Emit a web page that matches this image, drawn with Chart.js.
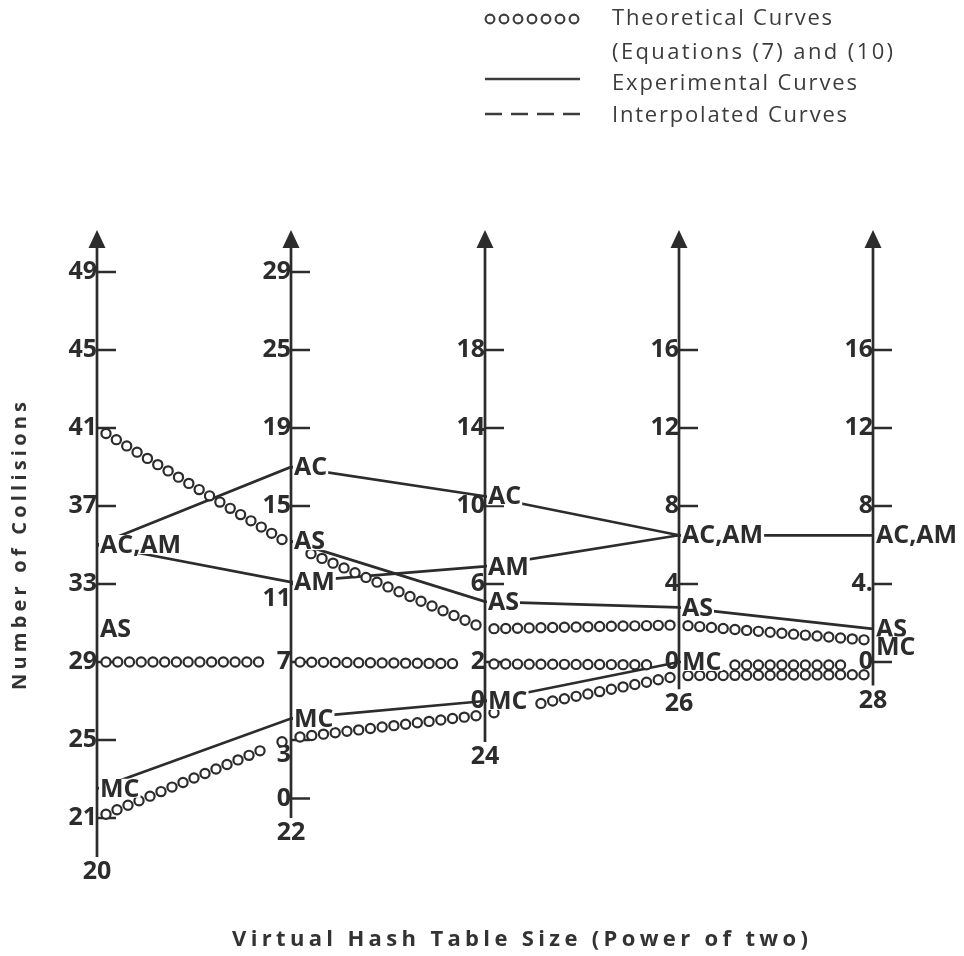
<!DOCTYPE html>
<html>
<head>
<meta charset="utf-8">
<script src="https://cdn.jsdelivr.net/npm/chart.js@4.4.1/dist/chart.umd.min.js"></script>
<style>
  html, body { margin: 0; padding: 0; background: #ffffff; }
  #wrap { width: 964px; height: 956px; position: relative; }
</style>
</head>
<body>
<div id="wrap"><canvas id="chart" width="964" height="956"></canvas></div>
<script>
// Virtual hash table sizes (power of two); each one gets its own vertical axis
const tableSizes = [20, 22, 24, 26, 28];

// Tick values and the labels printed beside them, per axis
const ticks20 = [49, 45, 41, 37, 33, 29, 25, 21];
const ticks22 = [27, 23, 19, 15, 11, 7, 3, 0];
const ticks24 = [18, 14, 10, 6, 2, 0];
const ticks26 = [16, 12, 8, 4, 0];
const ticks28 = [16, 12, 8, 4, 0];
const labels20 = ['49', '45', '41', '37', '33', '29', '25', '21'];
const labels22 = ['29', '25', '19', '15', ['', '11'], '7', ['', '3'], '0'];
const labels24 = ['18', '14', '10', '6', '2', '0'];
const labels26 = ['16', '12', '8', '4', '0'];
const labels28 = ['16', '12', '8', '4.', '0'];

// Experimental collision counts (one value per table size)
const expAC = [35, 17, 10.5, 6.5, 6.5];
const expAM = [35, 11.1, 6.9, 6.5, 6.5];
const expAS = [30.7, 13.2, 5.1, 2.8, 1.7];
const expMC = [22.5, 4.1, 0, 0, 0.8];
// Segments (by starting axis index) that were not measured
const missingAS = [0];
const missingMC = [3];

// Theoretical curves, Equations (7) and (10)
const theoUpper = [41, 13, 3.7, 1.9, 1.1];
const theoMiddle = [29, 7, 1.9, -0.15, -0.15];
const theoLower = [21, 3.1, -0.7, -0.7, -0.65];

// Text
const legendTexts = ['Theoretical Curves', '(Equations (7) and (10)', 'Experimental Curves', 'Interpolated Curves'];
const xTitle = 'Virtual Hash Table Size (Power of two)';
const yTitle = 'Number of Collisions';

// ---- configuration (ranges and styling) ----
const tickValues = {20: ticks20, 22: ticks22, 24: ticks24, 26: ticks26, 28: ticks28};
const tickLabels = {20: labels20, 22: labels22, 24: labels24, 26: labels26, 28: labels28};
const axisRange = {20: [19, 51], 22: [-3, 29], 24: [-8, 24], 26: [-10, 22], 28: [-10, 22]};
const axisFloor = {20: 19, 22: -1, 24: -2.1, 26: -1.4, 28: -1.2};

const ink = '#2c2c2c';
const soft = '#3c3c3c';
const fontFamily = '"Open Sans", Roboto, "Liberation Sans", sans-serif';
const tickFont = {family: fontFamily, size: 25, weight: 'bold', lineHeight: 1.2};
const tickPadding = 7;
const style = {
  lineWidth: 2.7, axisWidth: 2.7, tickMark: 19, arrowLen: 18, arrowHalf: 8.5,
  ringRadius: 4.6, ringWidth: 2.2, ringStep: 12, ringInset: 9, endLabelGap: 15
};

const experimental = [
  {name: 'AC', values: expAC, missing: []},
  {name: 'AM', values: expAM, missing: []},
  {name: 'AS', values: expAS, missing: missingAS},
  {name: 'MC', values: expMC, missing: missingMC}
];
const theoretical = [theoUpper, theoMiddle, theoLower];

// Every axis is linear over the same plot height, so a value maps onto the
// shared 0..1 scale by its axis range.
const toShared = (size, v) => (v - axisRange[size][0]) / (axisRange[size][1] - axisRange[size][0]);
const onAxes = vals => vals.map((v, i) => ({x: tableSizes[i], y: toShared(tableSizes[i], v)}));

const fontStr = f => `${f.weight || 'normal'} ${f.size}px ${f.family}`;

const datasets = [];
experimental.forEach(s => datasets.push({
  label: s.name,
  data: onAxes(s.values),
  yAxisID: 'yc',
  borderColor: ink,
  borderWidth: style.lineWidth,
  pointRadius: 0,
  tension: 0,
  segment: {
    borderColor: ctx => s.missing.includes(ctx.p0DataIndex) ? 'rgba(0,0,0,0)' : ink
  }
}));
theoretical.forEach((vals, k) => datasets.push({
  label: 'theory' + k,
  data: onAxes(vals),
  yAxisID: 'yc',
  showLine: false,
  pointRadius: 0,
  theory: true
}));

const scales = {
  x: {type: 'linear', min: 19.5, max: 28.5, display: false},
  yc: {type: 'linear', min: 0, max: 1, display: false}
};
tableSizes.forEach(size => {
  scales['y' + size] = {
    type: 'linear',
    axis: 'y',
    position: {x: size},
    min: axisRange[size][0],
    max: axisRange[size][1],
    grid: {display: false, drawTicks: false},
    border: {display: false},
    afterBuildTicks: sc => { sc.ticks = tickValues[size].map(v => ({value: v})); },
    ticks: {
      autoSkip: false,
      padding: tickPadding,
      color: ink,
      font: tickFont,
      callback: (v, i) => tickLabels[size][i]
    }
  };
});

// Label boxes for the series names written next to each axis
function seriesLabels(chart, ctx) {
  ctx.save();
  ctx.font = fontStr(tickFont);
  const out = [];
  tableSizes.forEach((size, i) => {
    const groups = [];
    experimental.forEach(s => {
      const v = s.values[i];
      const g = groups.find(g => g.v === v);
      if (g) g.names.push(s.name); else groups.push({v, names: [s.name]});
    });
    const ax = chart.scales.x.getPixelForValue(size);
    groups.forEach(g => {
      const text = g.names.join(',');
      const y = chart.scales['y' + size].getPixelForValue(g.v);
      const w = ctx.measureText(text).width;
      out.push({text, x: ax + 3, y, l: ax + 2, r: ax + 4 + w, t: y - 8, b: y + 7});
    });
  });
  ctx.restore();
  return out;
}

// Boxes taken by the tick labels, used to keep the theory rings clear of them
function tickLabelBoxes(chart, ctx) {
  ctx.save();
  ctx.font = fontStr(tickFont);
  const lh = tickFont.size * tickFont.lineHeight;
  const out = [];
  tableSizes.forEach(size => {
    const sc = chart.scales['y' + size];
    const ax = chart.scales.x.getPixelForValue(size);
    sc.ticks.forEach(t => {
      const lines = [].concat(t.label);
      const y0 = sc.getPixelForValue(t.value) + (1 - lines.length) * lh / 2;
      lines.forEach((ln, j) => {
        if (!ln) return;
        const w = ctx.measureText(ln).width;
        const y = y0 + j * lh;
        out.push({l: ax - tickPadding - w, r: ax - tickPadding, t: y - 7, b: y + 7});
      });
    });
  });
  ctx.restore();
  return out;
}

function hits(boxes, x, y, r) {
  return boxes.some(b => x + r > b.l && x - r < b.r && y + r > b.t && y - r < b.b);
}

function ring(ctx, x, y, r) {
  ctx.beginPath();
  ctx.arc(x, y, r, 0, Math.PI * 2);
  ctx.fill();
  ctx.stroke();
}

function spacedText(ctx, text, x, y, width, align) {
  ctx.letterSpacing = '0px';
  const natural = ctx.measureText(text).width;
  const n = [...text].length;
  const extra = n > 1 ? Math.max(0, (width - natural) / (n - 1)) : 0;
  ctx.letterSpacing = extra.toFixed(2) + 'px';
  ctx.textAlign = 'left';
  ctx.fillText(text, align === 'center' ? x - width / 2 : x, y);
  ctx.letterSpacing = '0px';
}

const parallelAxes = {
  id: 'parallelAxes',
  beforeDatasetsDraw(chart) {
    const ctx = chart.ctx;
    const top = chart.chartArea.top;
    ctx.save();
    ctx.strokeStyle = ink;
    ctx.fillStyle = ink;
    tableSizes.forEach(size => {
      const sc = chart.scales['y' + size];
      const ax = chart.scales.x.getPixelForValue(size);
      const bottom = sc.getPixelForValue(axisFloor[size]);
      const tip = top - 3;
      // axis line and arrow head
      ctx.lineWidth = style.axisWidth;
      ctx.beginPath();
      ctx.moveTo(ax, bottom);
      ctx.lineTo(ax, tip + style.arrowLen - 2);
      ctx.stroke();
      ctx.beginPath();
      ctx.moveTo(ax, tip);
      ctx.lineTo(ax + style.arrowHalf, tip + style.arrowLen);
      ctx.lineTo(ax - style.arrowHalf, tip + style.arrowLen);
      ctx.closePath();
      ctx.fill();
      // tick marks point into the plot
      ctx.lineWidth = 2.5;
      sc.ticks.forEach(t => {
        const y = sc.getPixelForValue(t.value);
        ctx.beginPath();
        ctx.moveTo(ax, y);
        ctx.lineTo(ax + style.tickMark, y);
        ctx.stroke();
      });
      // table size under the axis
      ctx.font = fontStr(tickFont);
      ctx.textAlign = 'center';
      ctx.textBaseline = 'middle';
      ctx.fillText(String(size), ax, bottom + style.endLabelGap);
    });
    ctx.restore();
  },
  afterDatasetsDraw(chart) {
    const ctx = chart.ctx;
    const blocked = seriesLabels(chart, ctx).concat(tickLabelBoxes(chart, ctx));
    ctx.save();
    ctx.strokeStyle = ink;
    ctx.fillStyle = '#ffffff';
    ctx.lineWidth = style.ringWidth;
    chart.data.datasets.forEach((ds, di) => {
      if (!ds.theory) return;
      const pts = chart.getDatasetMeta(di).data;
      for (let i = 0; i < pts.length - 1; i++) {
        const p0 = pts[i], p1 = pts[i + 1];
        const slope = (p1.y - p0.y) / (p1.x - p0.x);
        const x0 = p0.x + style.ringInset, x1 = p1.x - style.ringInset;
        const y0 = p0.y + slope * style.ringInset, y1 = p1.y - slope * style.ringInset;
        const len = Math.hypot(x1 - x0, y1 - y0);
        const n = Math.max(1, Math.round(len / style.ringStep));
        for (let k = 0; k <= n; k++) {
          const cx = x0 + (x1 - x0) * k / n;
          const cy = y0 + (y1 - y0) * k / n;
          if (!hits(blocked, cx, cy, style.ringRadius)) ring(ctx, cx, cy, style.ringRadius);
        }
      }
    });
    ctx.restore();
  },
  afterDraw(chart) {
    const ctx = chart.ctx;
    ctx.save();
    // series names beside the axes
    ctx.font = fontStr(tickFont);
    ctx.textBaseline = 'middle';
    seriesLabels(chart, ctx).forEach(b => {
      ctx.fillStyle = '#ffffff';
      ctx.fillRect(b.l, b.t - 2, b.r - b.l, b.b - b.t + 4);
      ctx.fillStyle = ink;
      ctx.textAlign = 'left';
      ctx.fillText(b.text, b.x, b.y + 1);
    });

    // legend
    const lx = 485, lw = 95, tx = 612;
    ctx.strokeStyle = soft;
    ctx.fillStyle = '#ffffff';
    ctx.lineWidth = 2.1;
    for (let k = 0; k < 7; k++) ring(ctx, lx + 5 + k * 14, 19, 4.4);
    ctx.lineWidth = 2.4;
    ctx.beginPath(); ctx.moveTo(lx, 79); ctx.lineTo(lx + lw, 79); ctx.stroke();
    ctx.setLineDash([17, 9]);
    ctx.beginPath(); ctx.moveTo(lx, 114); ctx.lineTo(lx + lw, 114); ctx.stroke();
    ctx.setLineDash([]);
    ctx.fillStyle = soft;
    ctx.font = `22px ${fontFamily}`;
    ctx.textBaseline = 'middle';
    spacedText(ctx, legendTexts[0], tx, 19, 220, 'left');
    spacedText(ctx, legendTexts[1], tx, 53, 281, 'left');
    spacedText(ctx, legendTexts[2], tx, 84, 245, 'left');
    spacedText(ctx, legendTexts[3], tx, 116, 235, 'left');

    // axis titles
    ctx.fillStyle = '#333333';
    ctx.font = `bold 22px ${fontFamily}`;
    spacedText(ctx, xTitle, 520, 940, 576, 'center');
    ctx.font = `bold 20px ${fontFamily}`;
    ctx.translate(20, 546);
    ctx.rotate(-Math.PI / 2);
    spacedText(ctx, yTitle, 0, 0, 288, 'center');
    ctx.restore();
  }
};

new Chart(document.getElementById('chart'), {
  type: 'line',
  data: {datasets},
  options: {
    responsive: false,
    devicePixelRatio: 1,
    animation: false,
    layout: {padding: {left: 48.5, right: 42.5, top: 233, bottom: 99}},
    plugins: {legend: {display: false}, tooltip: {enabled: false}},
    scales
  },
  plugins: [parallelAxes]
});
</script>
</body>
</html>
